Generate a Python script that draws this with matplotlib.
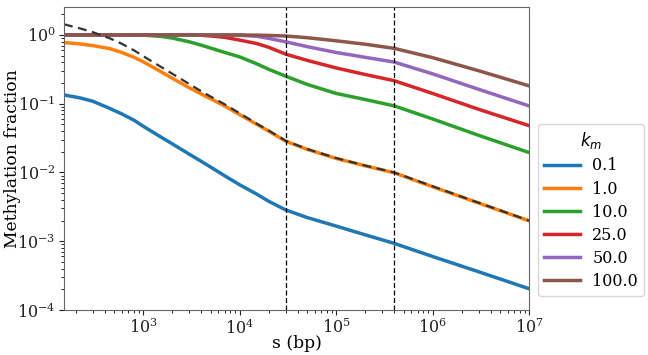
import matplotlib
matplotlib.use("Agg")
import matplotlib.pyplot as plt

plt.rcParams['font.family'] = ['DejaVu Serif']
plt.rcParams['mathtext.fontset'] = 'dejavusans'

s = [150, 220, 300, 450, 600, 800, 1000, 1500, 2000, 3000, 4000, 5500, 7000,
     1e4, 1.5e4, 2e4, 3e4, 5e4, 1e5, 2e5, 4e5, 1e6, 3e6, 1e7]

km_labels = ["0.1", "1.0", "10.0", "25.0", "50.0", "100.0"]
frac_01 = [0.134, 0.1216, 0.1084, 0.0851, 0.0708, 0.0575, 0.0468, 0.0331, 0.026,
           0.0184, 0.01445, 0.011, 0.00891, 0.0066, 0.00484, 0.0038, 0.00285,
           0.00221, 0.00166, 0.00124, 0.00093, 0.0006, 0.00036, 0.000204]
frac_1 = [0.776, 0.741, 0.70, 0.631, 0.556, 0.473, 0.407, 0.295, 0.234, 0.17,
          0.138, 0.11, 0.0923, 0.0692, 0.0501, 0.0398, 0.0285, 0.0217, 0.016,
          0.0125, 0.0099, 0.0062, 0.0036, 0.00198]
frac_10 = [1.0, 1.0, 1.0, 1.0, 1.0, 1.0, 0.995, 0.955, 0.90, 0.794, 0.708, 0.617,
           0.556, 0.479, 0.38, 0.316, 0.251, 0.191, 0.141, 0.115, 0.093, 0.060,
           0.0347, 0.0195]
frac_25 = [1.0, 1.0, 1.0, 1.0, 1.0, 1.0, 1.0, 1.0, 1.0, 1.0, 0.99, 0.955, 0.923,
           0.841, 0.75, 0.661, 0.525, 0.427, 0.331, 0.266, 0.216, 0.141, 0.083,
           0.048]
frac_50 = [1.0, 1.0, 1.0, 1.0, 1.0, 1.0, 1.0, 1.0, 1.0, 1.0, 1.0, 1.0, 1.0,
           0.99, 0.955, 0.891, 0.794, 0.676, 0.556, 0.473, 0.403, 0.272, 0.162,
           0.093]
frac_100 = [1.0, 1.0, 1.0, 1.0, 1.0, 1.0, 1.0, 1.0, 1.0, 1.0, 1.0, 1.0, 1.0,
            1.0, 0.993, 0.984, 0.966, 0.912, 0.822, 0.733, 0.638, 0.468, 0.302,
            0.182]
asymptote = [1.43, 1.245, 1.096, 0.891, 0.741, 0.596, 0.49, 0.347, 0.272, 0.193,
             0.151, 0.1175, 0.0977, 0.0724, 0.0513, 0.0407, 0.0288, 0.0219,
             0.0162, 0.0126, 0.010, 0.0063, 0.00363, 0.002]
vlines = [3e4, 4e5]

series = [frac_01, frac_1, frac_10, frac_25, frac_50, frac_100]
colors = ['#1f77b4', '#ff7f0e', '#2ca02c', '#d62728', '#9467bd', '#8c564b']

fig = plt.figure(figsize=(6.48, 3.55), dpi=100)
ax = fig.add_axes([64/648, 45/355, (529-64)/648, (310-7)/355])

for y, c, lab in zip(series, colors, km_labels):
    ax.plot(s, y, color=c, lw=2.5, label=lab)
ax.plot(s, asymptote, color='#333333', lw=1.6, ls=(0, (4, 2.5)))
for v in vlines:
    ax.axvline(v, color='black', lw=0.9, ls=(0, (4, 2)))

ax.set_xscale('log')
ax.set_yscale('log')
ax.set_xlim(150, 1e7)
ax.set_ylim(1e-4, 2.55)
ax.set_xlabel('s (bp)', fontsize=12.3)
ax.set_ylabel('Methylation fraction', fontsize=12.3)
ax.xaxis.set_label_coords(0.5, -0.083)
ax.yaxis.set_label_coords(-0.0925, 0.5)
ax.tick_params(labelsize=11.5, colors='#222222', pad=2.5)
for sp in ax.spines.values():
    sp.set_color('#666666')

leg = fig.legend(loc='upper left', bbox_to_anchor=(538/648, 1 - 124/355),
                 bbox_transform=fig.transFigure, title='$k_m$', fontsize=11.5,
                 title_fontsize=12, handlelength=2.2, labelspacing=0.38,
                 borderaxespad=0)
fig.savefig('out.png', dpi=100)
